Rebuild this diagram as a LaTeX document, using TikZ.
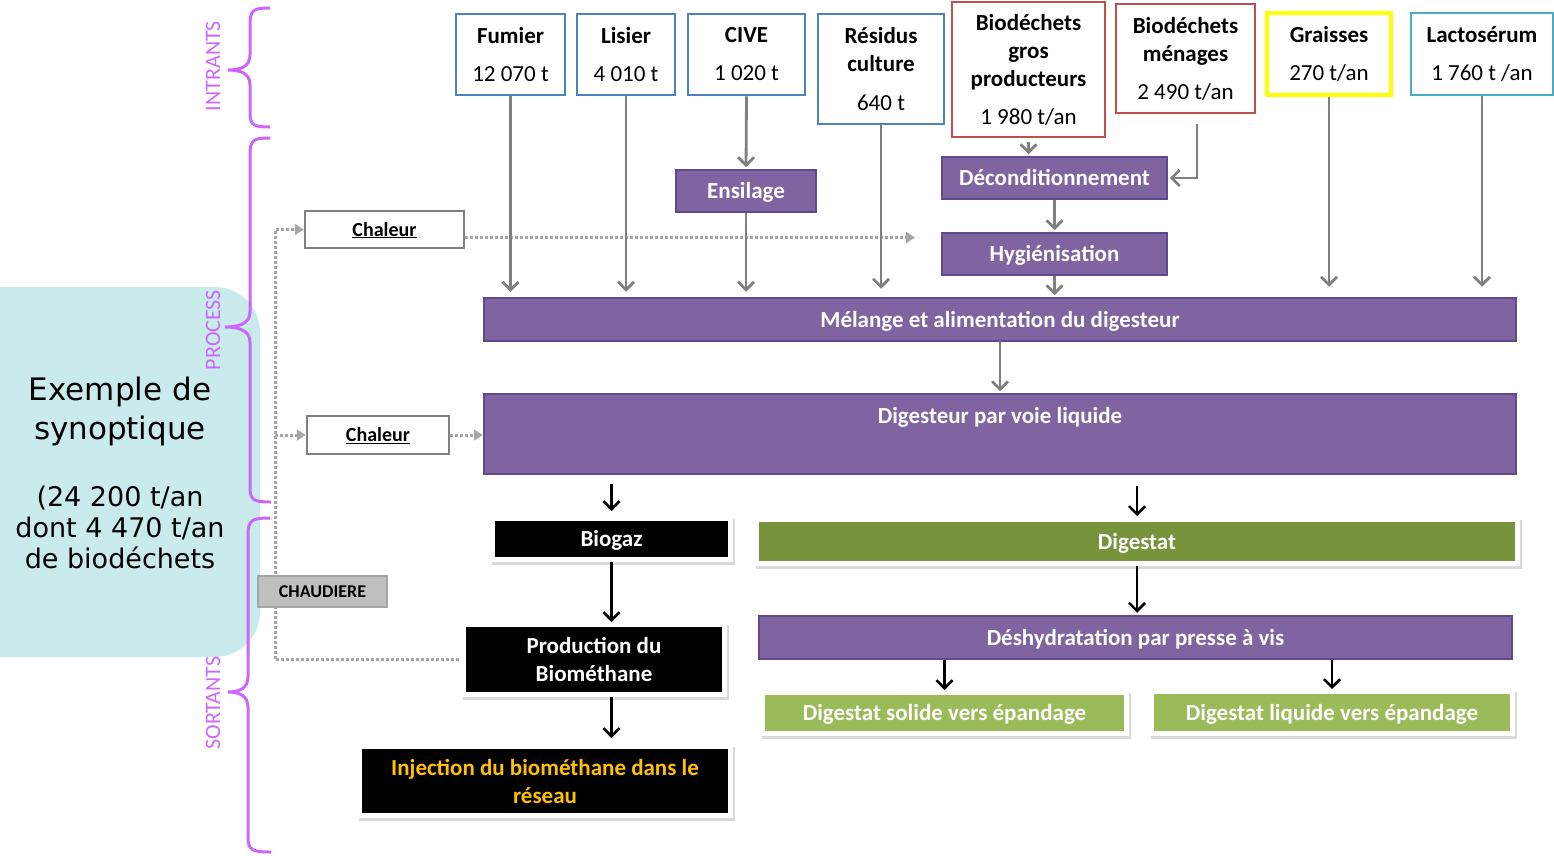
\documentclass[tikz,border=0pt]{standalone}
\usepackage{fontspec}
\setmainfont{Carlito}
\newfontfamily\verd{DejaVu Sans}
\usetikzlibrary{arrows.meta}
\definecolor{purp}{HTML}{8064A2}
\definecolor{purpd}{HTML}{5F4B8B}
\definecolor{olive}{HTML}{77933C}
\definecolor{lgreen}{HTML}{9BBB59}
\definecolor{blueb}{HTML}{4F81BD}
\definecolor{redb}{HTML}{C0504D}
\definecolor{yellowb}{HTML}{FFFF00}
\definecolor{cyanb}{HTML}{4BACC6}
\definecolor{garr}{HTML}{7F7F7F}
\definecolor{dotg}{HTML}{A6A6A6}
\definecolor{chalgray}{HTML}{808080}
\definecolor{chaudfill}{HTML}{BFBFBF}
\definecolor{chauddraw}{HTML}{A5A5A5}
\definecolor{bracec}{HTML}{CC66FF}
\definecolor{cyanbg}{HTML}{C9EBEC}
\definecolor{injor}{HTML}{FFC000}
\begin{document}
\begin{tikzpicture}[x=1pt,y=-1pt,
  topbox/.style={draw=#1, line width=2.5pt, fill=white, inner sep=0pt, align=center, font=\fontsize{23}{28}\selectfont},
  pbox/.style={fill=purp, draw=purpd, line width=2.5pt, inner sep=0pt, text=white, font=\bfseries\fontsize{23}{28}\selectfont, text height=15pt, text depth=0pt},
  obox/.style={draw=white, line width=5pt, inner sep=0pt, align=center, font=\bfseries\fontsize{23}{28}\selectfont,
    preaction={draw=black!15, line width=5pt, transform canvas={shift={(1.5pt,-2.5pt)}}}},
  oneline/.style={text height=15pt, text depth=0pt},
  chbox/.style={draw=chalgray, line width=2.5pt, fill=white, inner sep=0pt, font=\bfseries\fontsize{20}{24}\selectfont, text height=13pt, text depth=0pt},
  garrow/.style={draw=garr, line width=2.8pt, -{Straight Barb[length=8pt,width=16pt]}},
  barrow/.style={draw=black, line width=2.6pt, -{Straight Barb[length=8pt,width=16pt]}},
  dotline/.style={draw=dotg, line width=3pt, dash pattern=on 2.6pt off 2.4pt},
  dotarrow/.style={dotline, -{Triangle[length=9pt,width=11pt]}},
  bracestyle/.style={draw=bracec, line width=3pt},
  sidelabel/.style={rotate=90, text=bracec, inner sep=0pt, font=\fontsize{22}{26}\selectfont}
]
\useasboundingbox (0,0) rectangle (1554,855);

% background panel
\fill[cyanbg, rounded corners=45pt] (-50,287) rectangle (260,657);

% braces
\draw[bracestyle] (270,8) .. controls (253,8) and (250,10) .. (250,25) -- (250,55)
  .. controls (250,67) and (240,70) .. (228,70) .. controls (240,70) and (250,73) .. (250,85)
  -- (250,112) .. controls (250,125) and (253,127) .. (270,127);
\draw[bracestyle] (270,138) .. controls (253,138) and (250,140) .. (250,155) -- (250,312)
  .. controls (250,324) and (238,327) .. (225,327) .. controls (238,327) and (250,330) .. (250,342)
  -- (250,487) .. controls (250,500) and (253,502) .. (271,502);
\draw[bracestyle] (270,518) .. controls (252,518) and (248,520) .. (248,535) -- (248,677)
  .. controls (248,689) and (238,692) .. (228,692) .. controls (238,692) and (248,695) .. (248,707)
  -- (248,837) .. controls (248,850) and (252,852) .. (271,852);

\node[sidelabel] (lintr) at (213,66) {INTRANTS};
\node[sidelabel] (lproc) at (213,330) {PROCESS};
\node[sidelabel] (lsort) at (213,703) {SORTANTS};

% title texts
\node[align=center, inner sep=0pt, font=\verd\fontsize{31}{39}\selectfont] (synop1) at (120,411) {Exemple de\\synoptique};
\node[align=center, inner sep=0pt, font=\verd\fontsize{27}{31}\selectfont] (synop2) at (120,527) {(24 200 t/an\\dont 4 470 t/an\\de biodéchets};

% inputs
\node[topbox=blueb, minimum width=109pt, minimum height=81pt] (fumier) at (510.5,54.5) {\textbf{Fumier}\\[10pt]12 070 t};
\node[topbox=blueb, minimum width=98pt, minimum height=81pt] (lisier) at (626,54.5) {\textbf{Lisier}\\[10pt]4 010 t};
\node[topbox=blueb, minimum width=117pt, minimum height=81pt] (cive) at (746.5,54.5) {\textbf{CIVE}\\[10pt]1 020 t};
\node[topbox=blueb, minimum width=126pt, minimum height=110pt] (residus) at (881,69) {\textbf{Résidus}\\\textbf{culture}\\[11pt]640 t};
\node[topbox=redb, minimum width=153pt, minimum height=135pt] (gros) at (1028.5,69.5) {\textbf{Biodéchets}\\\textbf{gros}\\\textbf{producteurs}\\[10pt]1 980 t/an};
\node[topbox=redb, minimum width=139pt, minimum height=109pt] (menages) at (1185.5,58.5) {\textbf{Biodéchets}\\\textbf{ménages}\\[10pt]2 490 t/an};
\node[topbox=yellowb, line width=3.5pt, minimum width=124pt, minimum height=82pt] (graisses) at (1329,54) {\textbf{Graisses}\\[10pt]270 t/an};
\node[topbox=cyanb, minimum width=142pt, minimum height=82pt] (lacto) at (1482,54) {\textbf{Lactosérum}\\[10pt]1 760 t /an};

% process
\node[pbox, minimum width=140pt, minimum height=42pt] (ensil) at (746,191) {Ensilage};
\node[pbox, minimum width=225pt, minimum height=42pt] (decond) at (1054.5,178) {Déconditionnement};
\node[pbox, minimum width=225pt, minimum height=42pt] (hyg) at (1054.5,254) {Hygiénisation};
\node[pbox, minimum width=1032pt, minimum height=43pt] (melange) at (1000,319.5) {Mélange et alimentation du digesteur};
\node[pbox, minimum width=1032pt, text height=29pt, text depth=51pt] (dig) at (1000,434) {Digesteur par voie liquide};

% heat boxes
\node[chbox, minimum width=159pt, minimum height=37pt] (chal1) at (384.5,229.5) {\underline{Chaleur}};
\node[chbox, minimum width=142pt, minimum height=38pt] (chal2) at (378,435) {\underline{Chaleur}};

% outputs
\node[obox, oneline, fill=black, text=white, minimum width=238pt, minimum height=41pt] (biogaz) at (611.5,539) {Biogaz};
\node[obox, fill=black, text=white, minimum width=261pt, minimum height=70pt] (prod) at (594,659.5) {Production du\\Biométhane};
\node[obox, fill=black, text=injor, minimum width=371pt, minimum height=69pt] (inj) at (545,781) {Injection du biométhane dans le\\réseau};
\node[obox, oneline, fill=olive, text=white, minimum width=761pt, minimum height=44pt] (digestat) at (1137,541.5) {Digestat};
\node[pbox, minimum width=753pt, minimum height=43pt] (deshy) at (1135.5,637.5) {Déshydratation par presse à vis};
\node[obox, oneline, fill=lgreen, text=white, minimum width=364pt, minimum height=41pt] (solide) at (944.5,713) {Digestat solide vers épandage};
\node[obox, oneline, fill=lgreen, text=white, minimum width=361pt, minimum height=42pt] (liquide) at (1332,712.5) {Digestat liquide vers épandage};

% dotted heat lines
\coordinate (jx) at (275,0);
\coordinate (chalend) at (915,237.5);
\draw[dotarrow] ([xshift=-2pt]prod.west) -- (jx |- prod.west) |- (chal1.west);
\draw[dotarrow] (jx |- chal2.west) -- (chal2.west);
\draw[dotarrow] (chal2.east) -- (dig.west |- chal2.east);
\draw[dotarrow] ([yshift=-8pt]chal1.east) -- (chalend);

\node[chbox, draw=chauddraw, fill=chaudfill, font=\bfseries\fontsize{18}{22}\selectfont, text height=11.5pt, minimum width=129pt, minimum height=31pt] (chaud) at (322.5,591.5) {CHAUDIERE};

% gray arrows
\draw[garrow, shorten >=5pt] (fumier.south) -- (melange.north -| fumier.south);
\draw[garrow, shorten >=5pt] (lisier.south) -- (melange.north -| lisier.south);
\draw[garrow, shorten >=1.5pt] (cive.south) -- (ensil.north);
\draw[garrow, shorten >=5pt] (ensil.south) -- (melange.north -| ensil.south);
\draw[garrow, shorten >=8pt] (residus.south) -- (melange.north -| residus.south);
\draw[garrow, shorten <=4pt, shorten >=1.5pt] (gros.south) -- (decond.north -| gros.south);
\draw[garrow, shorten >=1.5pt] ([xshift=11.5pt,yshift=-10pt]menages.south) |- (decond.east);
\draw[garrow, shorten >=1.5pt] (decond.south) -- (hyg.north);
\draw[garrow, shorten >=1.5pt] (hyg.south) -- (melange.north -| hyg.south);
\draw[garrow, shorten >=10pt] (graisses.south) -- (melange.north -| graisses.south);
\draw[garrow, shorten >=10pt] (lacto.south) -- (melange.north -| lacto.south);
\draw[garrow, shorten >=1.5pt] (melange.south) -- (dig.north);

% black arrows
\draw[barrow, shorten <=9pt, shorten >=5pt] (dig.south -| biogaz.north) -- (biogaz.north);
\draw[barrow, shorten <=11pt, shorten >=1pt] (dig.south -| digestat.north) -- (digestat.north);
\draw[barrow] (biogaz.south) -- (prod.north -| biogaz.south);
\draw[barrow, shorten >=6pt] (prod.south -| biogaz.south) -- (inj.north -| biogaz.south);
\draw[barrow, shorten >=2pt] (digestat.south) -- (deshy.north -| digestat.south);
\draw[barrow] (deshy.south -| solide.north) -- (solide.north);
\draw[barrow] (deshy.south -| liquide.north) -- (liquide.north);
\end{tikzpicture}
\end{document}
